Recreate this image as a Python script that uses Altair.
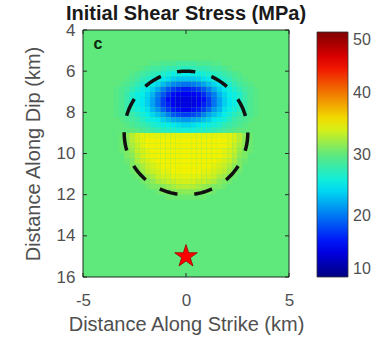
import math
import altair as alt
import pandas as pd

# ---- plot extents and tick positions (km / MPa)
X_DOMAIN = [-5, 5]
Y_DOMAIN = [4, 16]
X_TICKS = [-5, 0, 5]
Y_TICKS = [4, 6, 8, 10, 12, 14, 16]
CBAR_TICKS = [10, 20, 30, 40, 50]

TITLE = "Initial Shear Stress (MPa)"

# jet-style colormap anchors over the 10-50 MPa colour range
JET_STOPS = [10, 15, 25, 30, 35, 45, 50]
JET_COLORS = ["#000080", "#0000f8", "#00eef0", "#5fe87c", "#f2f200", "#f00000", "#7f0000"]

# uniform shear stress away from the nucleation patch (MPa)
BACKGROUND_STRESS = 30.0

# stress grid over the patch: 0.25 km cells, x from -3.5 to 3.5 km, depth 5.5 to 12.5 km
GRID_LEFT = -3.5
GRID_TOP = 5.5
CELL_KM = 0.25

STRESS_ROWS = [
    [30, 30, 30, 30, 30, 30, 30, 29.5, 29.5, 29, 29, 29, 28.5, 28.5, 28.5, 28.5, 29, 29, 29, 29.5, 29.5, 30, 30, 30, 30, 30, 30, 30],
    [30, 30, 30, 30, 30, 29.5, 29, 28.5, 28.5, 28, 27.5, 27.5, 27.5, 27, 27, 27.5, 27.5, 27.5, 28, 28.5, 28.5, 29, 29.5, 30, 30, 30, 30, 30],
    [30, 30, 30, 29.5, 29, 28.5, 28, 27.5, 27, 26.5, 26, 25.5, 25.5, 25, 25, 25.5, 25.5, 26, 26.5, 27, 27.5, 28, 28.5, 29, 29.5, 30, 30, 30],
    [30, 30, 29.5, 29, 28.5, 27.5, 27, 26, 25.5, 24.8, 24.4, 23.7, 23.3, 23.3, 23.3, 23.3, 23.7, 24.4, 24.8, 25.5, 26, 27, 27.5, 28.5, 29, 29.5, 30, 30],
    [30, 29.5, 29, 28.5, 27.5, 26.5, 25.5, 24.8, 24, 23, 21.8, 20.8, 20.3, 19.8, 19.8, 20.3, 20.8, 21.8, 23, 24, 24.8, 25.5, 26.5, 27.5, 28.5, 29, 29.5, 30],
    [29.5, 29, 28.5, 27.5, 26.5, 25.5, 24.8, 23.7, 22.2, 20.3, 18.7, 17.5, 16.8, 16.2, 16.2, 16.8, 17.5, 18.7, 20.3, 22.2, 23.7, 24.8, 25.5, 26.5, 27.5, 28.5, 29, 29.5],
    [29.5, 29, 28, 26.5, 25.5, 25.2, 24, 22.6, 20.3, 18.7, 16.8, 15.5, 14.8, 14.8, 14.8, 14.8, 15.5, 16.8, 18.7, 20.3, 22.6, 24, 25.2, 25.5, 26.5, 28, 29, 29.5],
    [29.5, 29, 28, 26.5, 25.5, 24.8, 23.7, 21.8, 19.8, 17.5, 15.5, 14.8, 14, 14, 14, 14, 14.8, 15.5, 17.5, 19.8, 21.8, 23.7, 24.8, 25.5, 26.5, 28, 29, 29.5],
    [29.5, 29, 28, 26.5, 25.5, 24.8, 23.7, 21.8, 19.8, 17.5, 16.2, 14.8, 14, 14, 14, 14, 14.8, 16.2, 17.5, 19.8, 21.8, 23.7, 24.8, 25.5, 26.5, 28, 29, 29.5],
    [29.5, 29, 28, 27, 26, 25.2, 24.4, 22.6, 21.3, 19.2, 17.5, 16.2, 15.5, 14.8, 14.8, 15.5, 16.2, 17.5, 19.2, 21.3, 22.6, 24.4, 25.2, 26, 27, 28, 29, 29.5],
    [29.5, 29, 28.5, 28, 27, 26, 25.2, 24, 23, 21.8, 20.3, 18.7, 18, 17.5, 17.5, 18, 18.7, 20.3, 21.8, 23, 24, 25.2, 26, 27, 28, 28.5, 29, 29.5],
    [30, 29.5, 29, 28.5, 28, 27, 26, 25.5, 24.8, 23.7, 23, 22.2, 21.8, 21.3, 21.3, 21.8, 22.2, 23, 23.7, 24.8, 25.5, 26, 27, 28, 28.5, 29, 29.5, 30],
    [30, 30, 29.5, 29, 28.5, 28, 27.5, 26.5, 26, 25.5, 25.2, 24.8, 24.4, 24, 24, 24.4, 24.8, 25.2, 25.5, 26, 26.5, 27.5, 28, 28.5, 29, 29.5, 30, 30],
    [30, 30, 30, 30, 29.5, 29, 28.5, 28, 27.5, 27, 26.5, 26.5, 26, 26, 26, 26, 26.5, 26.5, 27, 27.5, 28, 28.5, 29, 29.5, 30, 30, 30, 30],
    [30, 30.5, 31.5, 33, 34, 34.5, 34.5, 34.5, 34.5, 34.5, 34.5, 34.5, 34.5, 34.5, 34.5, 34.5, 34.5, 34.5, 34.5, 34.5, 34.5, 34.5, 34.5, 34, 33, 31.5, 30.5, 30],
    [30, 30.5, 31.5, 33, 34, 34.5, 35, 35, 35, 35, 35, 35, 35, 35, 35, 35, 35, 35, 35, 35, 35, 35, 34.5, 34, 33, 31.5, 30.5, 30],
    [30, 30.5, 31.5, 32.5, 33.5, 34.5, 35, 35, 35, 35, 35, 35, 35, 35, 35, 35, 35, 35, 35, 35, 35, 35, 34.5, 33.5, 32.5, 31.5, 30.5, 30],
    [30, 30.5, 31, 32, 33.5, 34, 34.5, 35, 35, 35, 35, 35, 35, 35, 35, 35, 35, 35, 35, 35, 35, 34.5, 34, 33.5, 32, 31, 30.5, 30],
    [30, 30, 31, 31.5, 33, 34, 34.5, 35, 35, 35, 35, 35, 35, 35, 35, 35, 35, 35, 35, 35, 35, 34.5, 34, 33, 31.5, 31, 30, 30],
    [30, 30, 30.5, 31, 32.5, 33.5, 34, 34.5, 35, 35, 35, 35, 35, 35, 35, 35, 35, 35, 35, 35, 34.5, 34, 33.5, 32.5, 31, 30.5, 30, 30],
    [30, 30, 30, 31, 31.5, 32.5, 33.5, 34, 34.5, 35, 35, 35, 35, 35, 35, 35, 35, 35, 35, 34.5, 34, 33.5, 32.5, 31.5, 31, 30, 30, 30],
    [30, 30, 30, 30.5, 31, 32, 33, 33.5, 34, 34.5, 34.5, 35, 35, 35, 35, 35, 35, 34.5, 34.5, 34, 33.5, 33, 32, 31, 30.5, 30, 30, 30],
    [30, 30, 30, 30, 30.5, 31, 32, 32.5, 33.5, 34, 34, 34.5, 34.5, 34.5, 34.5, 34.5, 34.5, 34, 34, 33.5, 32.5, 32, 31, 30.5, 30, 30, 30, 30],
    [30, 30, 30, 30, 30, 30.5, 31, 31.5, 32.5, 33, 33.5, 33.5, 34, 34, 34, 34, 33.5, 33.5, 33, 32.5, 31.5, 31, 30.5, 30, 30, 30, 30, 30],
    [30, 30, 30, 30, 30, 30, 30.5, 31, 31, 31.5, 32, 32.5, 33, 33, 33, 33, 32.5, 32, 31.5, 31, 31, 30.5, 30, 30, 30, 30, 30, 30],
    [30, 30, 30, 30, 30, 30, 30, 30, 30.5, 31, 31, 31.5, 31.5, 31.5, 31.5, 31.5, 31.5, 31, 31, 30.5, 30, 30, 30, 30, 30, 30, 30, 30],
    [30, 30, 30, 30, 30, 30, 30, 30, 30, 30, 30.5, 30.5, 30.5, 30.5, 30.5, 30.5, 30.5, 30.5, 30, 30, 30, 30, 30, 30, 30, 30, 30, 30],
    [30, 30, 30, 30, 30, 30, 30, 30, 30, 30, 30, 30, 30, 30, 30, 30, 30, 30, 30, 30, 30, 30, 30, 30, 30, 30, 30, 30],
]
assert all(len(r) == 28 for r in STRESS_ROWS)

# nucleation patch outline and hypocentre (km)
PATCH_CENTER_X = 0.0
PATCH_CENTER_Y = 9.0
PATCH_RADIUS = 3.0
HYPO_X = [0.0]
HYPO_Y = [15.0]

PANEL_TAG = "c"
TAG_X = -4.28
TAG_Y = 4.68

FONT = "Liberation Sans"
PLOT_W, PLOT_H = 206, 247
TICK_LEN = 4

# ---- tables
cells = []
for i, row in enumerate(STRESS_ROWS):
    for j, v in enumerate(row):
        x0 = GRID_LEFT + j * CELL_KM
        y0 = GRID_TOP + i * CELL_KM
        cells.append({"x0": x0, "x1": x0 + CELL_KM, "y0": y0, "y1": y0 + CELL_KM, "v": v})
cells = pd.DataFrame(cells)

extent = pd.DataFrame([{"x0": X_DOMAIN[0], "x1": X_DOMAIN[1],
                        "y0": Y_DOMAIN[0], "y1": Y_DOMAIN[1],
                        "v": BACKGROUND_STRESS}])

outline = pd.DataFrame([
    {"k": k,
     "x0": PATCH_CENTER_X + PATCH_RADIUS * math.sin(2 * math.pi * k / 360),
     "y0": PATCH_CENTER_Y - PATCH_RADIUS * math.cos(2 * math.pi * k / 360)}
    for k in range(361)
])

hypo = pd.DataFrame({"x0": HYPO_X, "y0": HYPO_Y})
tag = pd.DataFrame({"x0": [TAG_X], "y0": [TAG_Y], "t": [PANEL_TAG]})
heading = pd.DataFrame({"x0": [sum(X_DOMAIN) / 2], "y0": [Y_DOMAIN[0]], "t": [TITLE]})
x_marks = pd.DataFrame({"x0": X_TICKS})
y_marks = pd.DataFrame({"y0": Y_TICKS})

# ---- scales and guides (shared by every layer)
x_scale = alt.Scale(domain=X_DOMAIN, nice=False, zero=False)
y_scale = alt.Scale(domain=Y_DOMAIN, nice=False, zero=False, reverse=True)
color_scale = alt.Scale(domain=JET_STOPS, range=JET_COLORS, interpolate="rgb")

colorbar = alt.Legend(
    type="gradient", orient="none", legendX=234, legendY=2, direction="vertical",
    gradientLength=245, gradientThickness=31, values=CBAR_TICKS,
    labelFontSize=16, labelOffset=5, labelFont=FONT, labelColor="#505050",
    gradientStrokeColor="#333333", gradientStrokeWidth=0.8, labelOverlap=False,
)
color_enc = alt.Color("v:Q", scale=color_scale, title=None, legend=colorbar)

x_axis = alt.Axis(values=X_TICKS, title="Distance Along Strike (km)",
                  labelExpr="toString(datum.value)",
                  labelPadding=15, titleY=53, titleBaseline="alphabetic")
y_axis = alt.Axis(values=Y_TICKS, title="Distance Along Dip (km)",
                  labelPadding=8, titleX=-43.5, titleBaseline="alphabetic")

X = alt.X("x0:Q", scale=x_scale, axis=x_axis)
Y = alt.Y("y0:Q", scale=y_scale, axis=y_axis)

background = alt.Chart(extent).mark_rect().encode(
    x=X, x2="x1:Q", y=Y, y2="y1:Q", color=color_enc,
)

field = alt.Chart(cells).mark_rect().encode(
    x=X, x2="x1:Q", y=Y, y2="y1:Q", color=color_enc,
)

patch = alt.Chart(outline).mark_line(
    color="#111111", strokeWidth=3.5, strokeDash=[18.5, 16.8], strokeDashOffset=9.2,
).encode(x=X, y=Y, order="k:Q")

STAR = ("M0,-1L0.2245,-0.309L0.951,-0.309L0.363,0.118L0.588,0.809L0,0.382"
        "L-0.588,0.809L-0.363,0.118L-0.951,-0.309L-0.2245,-0.309Z")
hypocentre = alt.Chart(hypo).mark_point(
    shape=STAR, size=560, filled=True, fill="#ff0000", stroke="#9a0000",
    strokeWidth=0.8, opacity=1,
).encode(x=X, y=Y)

label = alt.Chart(tag).mark_text(
    font=FONT, fontSize=16, fontWeight="bold", color="#0d260d",
).encode(x=X, y=Y, text="t:N")

title = alt.Chart(heading).mark_text(
    font=FONT, fontSize=20, fontWeight="bold", color="#1a1a1a",
    baseline="alphabetic", dy=-10,
).encode(x=X, y=Y, text="t:N")

# inward-pointing tick marks on all four sides of the frame
tick_style = dict(color="#2a2a2a", strokeWidth=1)
ticks_bottom = alt.Chart(x_marks).mark_rule(**tick_style).encode(
    x=X, y=alt.value(PLOT_H), y2=alt.value(PLOT_H - TICK_LEN))
ticks_top = alt.Chart(x_marks).mark_rule(**tick_style).encode(
    x=X, y=alt.value(0), y2=alt.value(TICK_LEN))
ticks_left = alt.Chart(y_marks).mark_rule(**tick_style).encode(
    y=Y, x=alt.value(0), x2=alt.value(TICK_LEN))
ticks_right = alt.Chart(y_marks).mark_rule(**tick_style).encode(
    y=Y, x=alt.value(PLOT_W), x2=alt.value(PLOT_W - TICK_LEN))

frame = alt.Chart(extent).mark_rect(filled=False, stroke="#1e2a1e", strokeWidth=1).encode(
    x=X, x2="x1:Q", y=Y, y2="y1:Q",
)

chart = alt.layer(
    background, field, patch, hypocentre, label,
    ticks_bottom, ticks_top, ticks_left, ticks_right, frame, title,
).properties(
    width=PLOT_W, height=PLOT_H,
    autosize=alt.AutoSizeParams(type="none"),
    padding={"left": 83, "top": 30, "right": 97, "bottom": 61},
).configure_view(
    strokeWidth=0,
).configure_axis(
    domain=False, ticks=False, tickSize=0, grid=False,
    labelFont=FONT, titleFont=FONT, labelFontSize=17, titleFontSize=20,
    labelColor="#505050", titleColor="#505050", titleFontWeight="normal",
    labelFlush=False, labelOverlap=False,
)

chart.save("out.html", embed_options={"renderer": "svg", "actions": False})
